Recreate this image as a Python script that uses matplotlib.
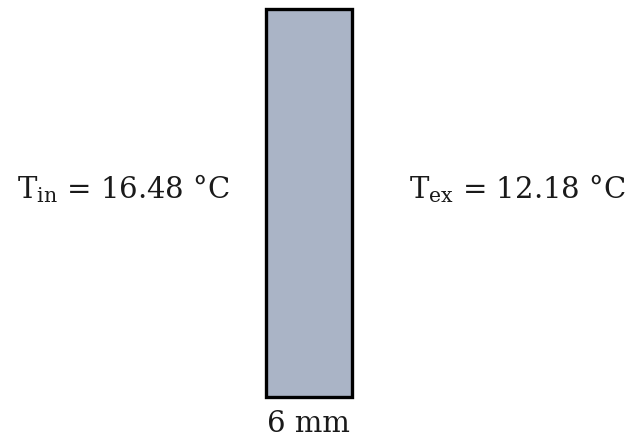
import matplotlib
matplotlib.use("Agg")
import matplotlib.pyplot as plt
from matplotlib.patches import Rectangle

# Data
t_inside = 16.48
t_exterior = 12.18
thickness_mm = 6

plt.rcParams['mathtext.fontset'] = 'dejavuserif'
plt.rcParams['font.family'] = ['DejaVu Serif']

fig = plt.figure(figsize=(6.31, 4.43), dpi=100)
ax = fig.add_axes([0, 0, 1, 1])
ax.set_xlim(0, 631)
ax.set_ylim(443, 0)
ax.axis('off')

ax.add_patch(Rectangle((265.5, 8.5), 86, 388, facecolor='#aab4c6',
                       edgecolor='black', linewidth=2.4))

fs = 21
ax.text(123, 189, r'$\mathrm{T_{in}}$' + f' = {t_inside:.2f} °C', fontsize=fs,
        ha='center', va='center', color='#1a1a1a')
ax.text(517, 189, r'$\mathrm{T_{ex}}$' + f' = {t_exterior:.2f} °C', fontsize=fs,
        ha='center', va='center', color='#1a1a1a')
ax.text(308, 424, f'{thickness_mm} mm', fontsize=fs, ha='center', va='center',
        color='#1a1a1a')

fig.savefig('out.png', dpi=100)
